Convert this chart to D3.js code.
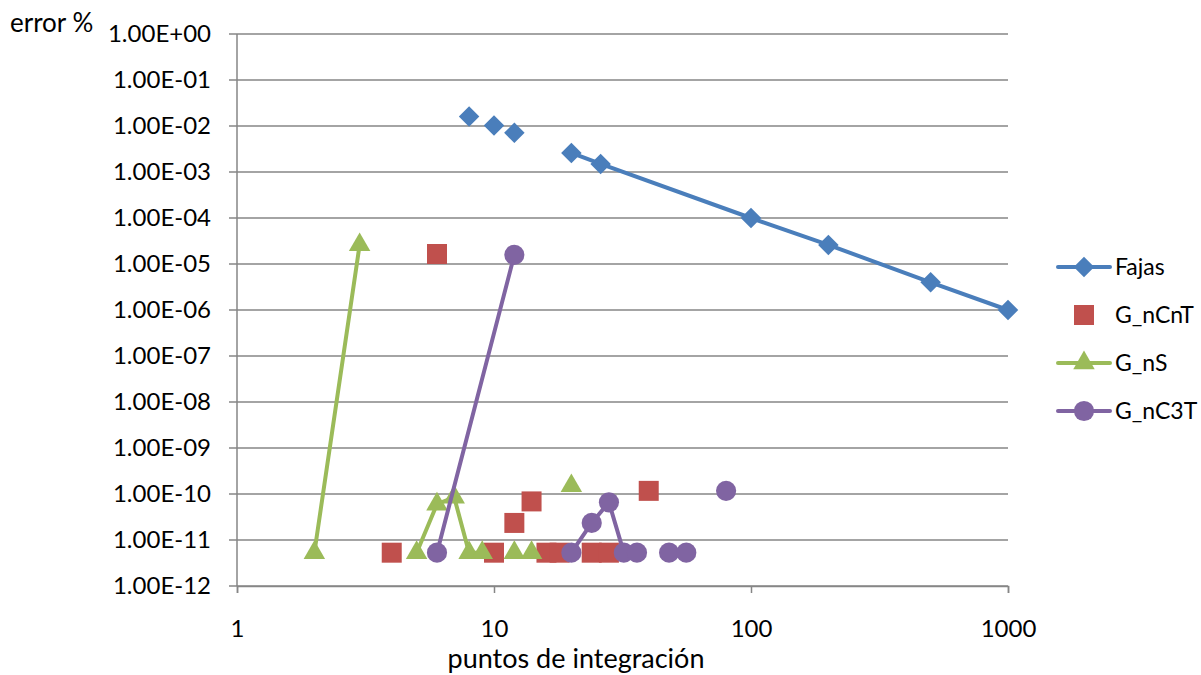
<!DOCTYPE html>
<html>
<head>
<meta charset="utf-8">
<script src="https://cdn.jsdelivr.net/npm/d3@7"></script>
<style>
  html, body { margin: 0; padding: 0; background: #fff; }
  svg text { font-family: Lato, "Open Sans", sans-serif; fill: #000; }
</style>
</head>
<body>
<svg id="chart" width="1201" height="675"></svg>
<script>
// Integration points (x) and error % (y); null marks a break in the series line
const fajasX = [8, null, 10, null, 12, null, 20, 26, 100, 200, 500, 1000];
const fajasY = [1.6e-2, null, 1.02e-2, null, 7.1e-3, null, 2.6e-3, 1.5e-3, 1.0e-4, 2.6e-5, 4.0e-6, 1.0e-6];

const nCnTX = [4, 6, 10, 12, 14, 16, 18, 24, 28, 40];
const nCnTY = [5.3e-12, 1.65e-5, 5.3e-12, 2.35e-11, 6.9e-11, 5.3e-12, 5.3e-12, 5.3e-12, 5.3e-12, 1.17e-10];

const nSX = [2, 3, null, 5, 6, 7, 8, 9, null, 12, null, 14, null, 20];
const nSY = [5.3e-12, 2.6e-5, null, 5.3e-12, 6.0e-11, 8.5e-11, 5.3e-12, 5.3e-12, null, 5.3e-12, null, 5.3e-12, null, 1.5e-10];

const nC3TX = [6, 12, null, 20, 24, 28, 32, 36, null, 48, 56, null, 80];
const nC3TY = [5.3e-12, 1.58e-5, null, 5.3e-12, 2.35e-11, 6.6e-11, 5.3e-12, 5.3e-12, null, 5.3e-12, 5.3e-12, null, 1.17e-10];

const xTicks = [1, 10, 100, 1000];
const yExponents = [0, -1, -2, -3, -4, -5, -6, -7, -8, -9, -10, -11, -12];

const seriesNames = ["Fajas", "G_nCnT", "G_nS", "G_nC3T"];

const svg = d3.select("#chart");
const plotLeft = 237, plotRight = 1008, plotTop = 34, plotBottom = 586;

const x = d3.scaleLog().domain([1, 1000]).range([plotLeft, plotRight]);
const y = d3.scaleLog().domain([1e-12, 1]).range([plotBottom, plotTop]);

const gridColor = "#868686";

// horizontal gridlines, one per decade
svg.append("g").selectAll("line")
  .data(yExponents)
  .join("line")
  .attr("x1", plotLeft - 8).attr("x2", plotRight)
  .attr("y1", e => y(Math.pow(10, e))).attr("y2", e => y(Math.pow(10, e)))
  .attr("stroke", gridColor).attr("stroke-width", 1.5);

// y axis line
svg.append("line")
  .attr("x1", plotLeft).attr("x2", plotLeft).attr("y1", plotTop).attr("y2", plotBottom)
  .attr("stroke", gridColor).attr("stroke-width", 1.5);

// x axis with downward ticks
const xAxis = d3.axisBottom(x).tickValues(xTicks).tickFormat(d3.format("d"))
  .tickSize(7).tickPadding(27);
const gx = svg.append("g").attr("transform", `translate(0,${plotBottom})`).call(xAxis);
gx.select(".domain").attr("stroke", gridColor).attr("stroke-width", 1.5);
gx.selectAll(".tick line").attr("stroke", gridColor).attr("stroke-width", 1.5);
gx.selectAll(".tick text").attr("font-size", 24).attr("font-family", "Lato, sans-serif").attr("fill", "#000");

// y tick labels in scientific notation
const sci = e => "1.00E" + (e >= 0 ? "+" : "-") + String(Math.abs(e)).padStart(2, "0");
svg.append("g").selectAll("text")
  .data(yExponents)
  .join("text")
  .attr("x", 211)
  .attr("y", e => y(Math.pow(10, e)))
  .attr("dy", "0.35em")
  .attr("text-anchor", "end")
  .attr("font-size", 24)
  .text(sci);

// axis titles
svg.append("text").attr("x", 10).attr("y", 32).attr("font-size", 26).text("error %");
svg.append("text").attr("x", 576).attr("y", 668).attr("text-anchor", "middle")
  .attr("font-size", 27).text("puntos de integración");

const toPoints = (xs, ys) => xs.map((v, i) => ({ x: v, y: ys[i] }));

const series = [
  { name: seriesNames[0], color: "#4A7EBB", shape: d3.symbolSquare, rotate: 45, line: true, size: 210, pts: toPoints(fajasX, fajasY) },
  { name: seriesNames[1], color: "#C0504D", shape: d3.symbolSquare, rotate: 0, line: false, size: 400, pts: toPoints(nCnTX, nCnTY) },
  { name: seriesNames[2], color: "#9BBB59", shape: d3.symbolTriangle, rotate: 0, line: true, size: 200, pts: toPoints(nSX, nSY) },
  { name: seriesNames[3], color: "#8064A2", shape: d3.symbolCircle, rotate: 0, line: true, size: 320, pts: toPoints(nC3TX, nC3TY) }
];

const lineGen = d3.line()
  .defined(d => d.x != null && d.y != null)
  .x(d => x(d.x)).y(d => y(d.y));

const plot = svg.append("g");
series.forEach(s => {
  const g = plot.append("g");
  if (s.line) {
    g.append("path").datum(s.pts)
      .attr("d", lineGen)
      .attr("fill", "none").attr("stroke", s.color)
      .attr("stroke-width", 4).attr("stroke-linejoin", "round").attr("stroke-linecap", "round");
  }
  g.selectAll("path.mk")
    .data(s.pts.filter(d => d.x != null && d.y != null))
    .join("path").attr("class", "mk")
    .attr("transform", d => `translate(${x(d.x)},${y(d.y)}) rotate(${s.rotate})`)
    .attr("d", d3.symbol().type(s.shape).size(s.size))
    .attr("fill", s.color);
});

// legend
const legend = svg.append("g");
series.forEach((s, i) => {
  const ly = 267 + i * 48;
  const g = legend.append("g");
  if (s.line) {
    g.append("line").attr("x1", 1058).attr("x2", 1110).attr("y1", ly).attr("y2", ly)
      .attr("stroke", s.color).attr("stroke-width", 4).attr("stroke-linecap", "round");
  }
  g.append("path").attr("transform", `translate(1084,${ly}) rotate(${s.rotate})`)
    .attr("d", d3.symbol().type(s.shape).size(s.size)).attr("fill", s.color);
  g.append("text").attr("x", 1115).attr("y", ly).attr("dy", "0.35em")
    .attr("font-size", 23).text(s.name);
});
</script>
</body>
</html>
